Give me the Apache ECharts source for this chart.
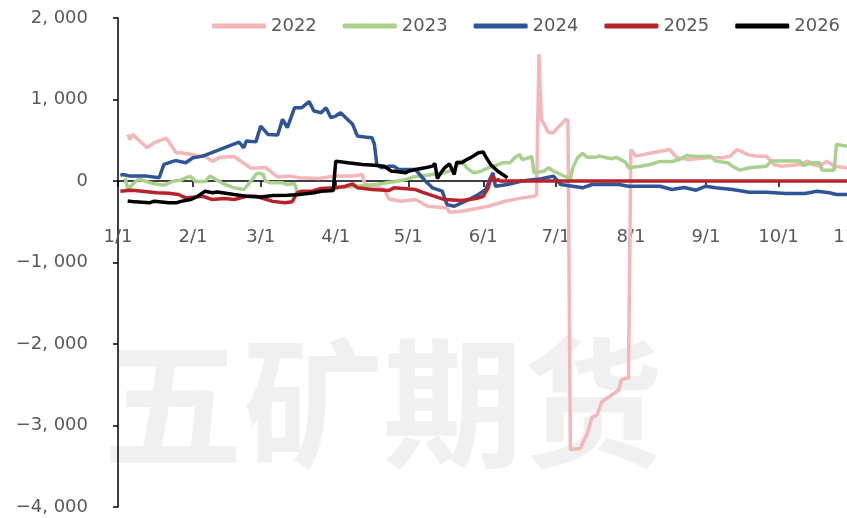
<!DOCTYPE html>
<html>
<head>
<meta charset="utf-8">
<script src="https://cdn.jsdelivr.net/npm/echarts@6/dist/echarts.min.js"></script>
<style>
  html, body { margin: 0; padding: 0; background: #fff; overflow: hidden; }
  #chart { width: 1010px; height: 518px; }
</style>
</head>
<body>
<div id="chart"></div>
<script>
// x = day of year (0 = 1/1), y = value
const monthDays = [0, 31, 59, 90, 120, 151, 181, 212, 243, 273, 304, 334];
const monthLabels = ['1/1', '2/1', '3/1', '4/1', '5/1', '6/1', '7/1', '8/1', '9/1', '10/1', '11/1', '12/1'];
const yearNames = ['2022', '2023', '2024', '2025', '2026'];
const colors = ['#F4B6B9', '#A9D18E', '#2F5597', '#B8232B', '#000000'];

const d2022 = [[4,572],[5,510],[6,572],[12,408],[15,470],[20,525],[24,347],[26,347],[33,310],[36,305],[39,240],[42,290],[48,300],[55,155],[61,165],[66,50],[71,60],[75,40],[83,30],[89,60],[97,60],[101,80],[102,-40],[110,-100],[112,-220],[117,-248],[123,-228],[128,-310],[136,-330],[137,-385],[142,-371],[146,-350],[153,-310],[160,-248],[167,-207],[172,-187],[173,-170],[174,1556],[175,756],[178,593],[180,593],[185,756],[186,740],[187,-3294],[191,-3282],[194,-3097],[196,-2893],[198,-2872],[200,-2708],[201,-2687],[203,-2647],[207,-2565],[208,-2442],[210,-2420],[211,-2420],[212,387],[214,305],[221,347],[228,387],[231,285],[236,264],[243,285],[250,285],[253,305],[256,387],[260,326],[264,305],[268,305],[271,203],[274,182],[282,203],[285,244],[287,203],[290,182],[293,244],[296,182],[301,162],[306,160]];
const d2023 = [[3,40],[4,-100],[8,15],[9,18],[15,-35],[17,-43],[19,-50],[23,0],[26,10],[28,40],[30,55],[32,-5],[36,-5],[38,60],[43,-25],[48,-84],[52,-105],[55,0],[57,80],[58,100],[60,80],[61,0],[63,-22],[68,-22],[70,-43],[73,-30],[74,-125],[78,-145],[80,-130],[84,-105],[90,-84],[98,-64],[103,-55],[109,-35],[111,-22],[114,-10],[119,18],[122,50],[125,60],[130,80],[135,100],[139,150],[142,250],[144,165],[147,100],[150,120],[153,162],[156,190],[159,224],[162,224],[164,285],[166,326],[167,264],[170,285],[171,305],[172,100],[176,120],[178,162],[180,120],[183,80],[186,40],[187,20],[188,162],[190,285],[192,340],[194,290],[197,290],[199,305],[204,273],[206,290],[209,244],[210,224],[211,162],[216,182],[220,203],[224,240],[229,240],[232,264],[235,313],[238,305],[241,300],[245,305],[247,244],[252,224],[254,182],[257,133],[261,162],[268,182],[270,244],[282,244],[283,190],[287,224],[290,224],[291,133],[296,133],[297,450],[301,428],[306,425]];
const d2024 = [[1,70],[2,80],[5,60],[12,60],[17,40],[19,203],[23,244],[24,250],[28,224],[31,285],[35,305],[38,338],[50,477],[52,408],[53,490],[57,480],[59,674],[62,572],[66,565],[68,756],[70,654],[73,900],[76,900],[79,974],[81,859],[84,838],[86,900],[88,777],[90,797],[92,838],[97,695],[99,551],[102,540],[105,531],[106,450],[107,200],[109,162],[112,182],[114,182],[116,141],[123,141],[127,0],[130,-84],[134,-125],[136,-290],[139,-310],[142,-268],[145,-228],[149,-166],[152,-105],[154,40],[155,100],[156,-64],[161,-43],[167,0],[175,27],[180,60],[183,-43],[188,-64],[192,-84],[196,-43],[203,-40],[207,-43],[211,-64],[224,-64],[229,-105],[234,-80],[239,-113],[243,-64],[247,-84],[254,-105],[261,-138],[268,-138],[276,-154],[284,-154],[289,-125],[294,-145],[297,-166],[301,-166],[306,-160]];
const d2025 = [[1,-125],[5,-113],[7,-117],[16,-145],[21,-150],[25,-166],[28,-207],[35,-187],[39,-228],[44,-215],[48,-228],[53,-187],[57,-187],[64,-250],[69,-268],[72,-255],[74,-145],[76,-125],[80,-125],[84,-92],[90,-84],[94,-64],[97,-35],[99,-84],[105,-105],[112,-117],[114,-84],[123,-105],[126,-140],[130,-180],[135,-228],[142,-240],[148,-215],[151,-187],[153,-84],[154,18],[155,60],[156,0],[157,18],[158,0],[365,0]];
const d2026 = [[4,-245],[7,-256],[13,-268],[15,-248],[21,-268],[24,-268],[26,-250],[30,-228],[33,-187],[36,-125],[39,-145],[41,-135],[48,-166],[53,-187],[59,-195],[64,-178],[70,-175],[75,-166],[81,-145],[84,-125],[89,-117],[90,244],[95,224],[101,203],[106,194],[110,182],[113,120],[114,120],[119,100],[120,120],[123,141],[127,162],[130,182],[131,215],[132,30],[133,80],[135,162],[137,210],[139,80],[140,230],[142,224],[144,260],[146,290],[149,347],[151,355],[152,300],[154,203],[157,120],[161,40]];

const seriesData = [d2022, d2023, d2024, d2025, d2026];

const labelColor = '#595959';
const fontFamily = '"DejaVu Sans", sans-serif';

const yMin = -4000;
const yMax = 2000;
const gridTop = 18;
const gridBottom = 11;
const chartHeight = 518;

const fmtY = (v) => {
    if (v === 0) return '0';
    return (v < 0 ? '\u2212' : '') + Math.abs(v) / 1000 + ', 000';
};

// the x axis sits on y = 0; shift it up from the grid bottom by hand
const plotHeight = chartHeight - gridTop - gridBottom;
const zeroOffset = -plotHeight * (0 - yMin) / (yMax - yMin);

const myChart = echarts.init(document.getElementById('chart'));

const option = {
    animation: false,
    backgroundColor: '#fff',
    graphic: [{
        type: 'text',
        z: -10,
        silent: true,
        style: {
            text: '五矿期货',
            x: 383,
            y: 403,
            textAlign: 'center',
            textVerticalAlign: 'middle',
            font: 'bold 140px "Noto Sans CJK SC"',
            fill: '#F0F0F0'
        }
    }],
    legend: {
        data: yearNames,
        left: 207,
        top: 12,
        icon: 'roundRect',
        itemWidth: 54,
        itemHeight: 5,
        itemGap: 26,
        textStyle: { color: labelColor, fontSize: 18, fontFamily: fontFamily }
    },
    grid: { left: 118, right: 9, top: gridTop, bottom: gridBottom, containLabel: false,
            outerBounds: { left: -200, right: -200, top: -200, bottom: -200 } },
    xAxis: {
        type: 'value',
        min: 0,
        max: 365,
        position: 'bottom',
        offset: zeroOffset,
        axisLine: { onZero: false, lineStyle: { color: '#000', width: 1.5 } },
        axisTick: { customValues: monthDays, length: 6, lineStyle: { color: '#000', width: 1.5 } },
        axisLabel: {
            customValues: monthDays,
            formatter: (v) => monthLabels[monthDays.indexOf(v)],
            margin: 47,
            color: labelColor,
            fontSize: 18,
            fontFamily: fontFamily
        },
        splitLine: { show: false }
    },
    yAxis: {
        type: 'value',
        min: yMin,
        max: yMax,
        interval: 1000,
        axisLine: { show: true, lineStyle: { color: '#000', width: 1.5 } },
        axisTick: { show: true, length: 5, lineStyle: { color: '#000', width: 1.5 } },
        axisLabel: { formatter: fmtY, margin: 30, color: labelColor, fontSize: 18, fontFamily: fontFamily },
        splitLine: { show: false }
    },
    series: yearNames.map((name, i) => ({
        name: name,
        type: 'line',
        data: seriesData[i],
        symbol: 'none',
        color: colors[i],
        lineStyle: { width: 3.5, color: colors[i] },
        z: 2 + i
    }))
};

myChart.setOption(option);
</script>
</body>
</html>
